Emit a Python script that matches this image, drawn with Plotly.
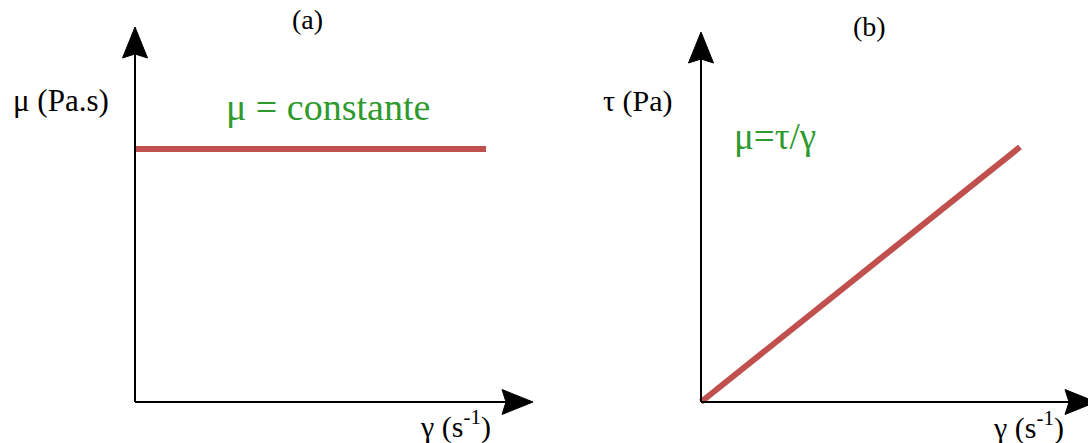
import plotly.graph_objects as go

# --- data -------------------------------------------------------------
gamma_a = [0, 10]          # shear rate, panel (a)
mu_a = [5, 5]              # viscosity: constant
gamma_b = [0, 10]          # shear rate, panel (b)
tau_b = [0, 5]             # shear stress: proportional to shear rate

panel_titles = ["(a)", "(b)"]
y_titles = ["μ (Pa.s)", "τ (Pa)"]
x_title = "γ (s<sup>-1</sup>)"
notes = ["μ = constante", "μ=τ/γ"]

# --- page geometry (pixels) ------------------------------------------
W, H = 1088, 443
RED = "#C0504D"
GREEN = "#2E9A2E"
SERIF = "Liberation Serif, Times New Roman, serif"

# per panel: pixel of the origin and pixel of the (10, 5) point
panels = [
    dict(dom=(0.0, 0.5), ox=135, oy=402, px10=486, py5=149,
         x_tip=533, y_tip=27),
    dict(dom=(0.5, 1.0), ox=701, oy=402, px10=1020, py5=147,
         x_tip=1096, y_tip=32),
]

fig = go.Figure()


def make_converters(p):
    sx = (p["px10"] - p["ox"]) / 10.0     # px per unit of gamma
    sy = (p["oy"] - p["py5"]) / 5.0       # px per unit of y
    x0 = p["dom"][0] * W
    x1 = p["dom"][1] * W
    xr = [(x0 - p["ox"]) / sx, (x1 - p["ox"]) / sx]
    yr = [(p["oy"] - H) / sy, p["oy"] / sy]
    to_x = lambda px: (px - p["ox"]) / sx
    to_y = lambda py: (p["oy"] - py) / sy
    return xr, yr, to_x, to_y


def arrow_path(points, to_x, to_y):
    s = "M " + " L ".join(f"{to_x(a):.4f},{to_y(b):.4f}" for a, b in points)
    return s + " Z"


series = [(gamma_a, mu_a), (gamma_b, tau_b)]
L, HW, NOTCH = 31, 12.5, 4   # arrowhead length, half width, notch depth

for i, p in enumerate(panels):
    n = "" if i == 0 else str(i + 1)
    xr, yr, to_x, to_y = make_converters(p)
    fig.update_layout(**{
        f"xaxis{n}": dict(domain=list(p["dom"]), range=xr, visible=False,
                          fixedrange=True),
        f"yaxis{n}": dict(domain=[0, 1], range=yr, visible=False,
                          fixedrange=True, anchor=f"x{n}"),
    })
    xs, ys = series[i]
    fig.add_trace(go.Scatter(x=xs, y=ys, mode="lines",
                             line=dict(color=RED, width=6),
                             xaxis=f"x{n}", yaxis=f"y{n}",
                             showlegend=False, hoverinfo="skip"))

    ox, oy = p["ox"], p["oy"]
    # vertical axis with arrowhead
    yt = p["y_tip"]
    fig.add_shape(type="line", xref=f"x{n}", yref=f"y{n}",
                  x0=0, y0=0, x1=0, y1=to_y(yt + L - NOTCH),
                  line=dict(color="black", width=2), layer="above")
    fig.add_shape(type="path", xref=f"x{n}", yref=f"y{n}",
                  path=arrow_path([(ox, yt), (ox + HW, yt + L),
                                   (ox, yt + L - NOTCH), (ox - HW, yt + L)],
                                  to_x, to_y),
                  fillcolor="black", line=dict(color="black", width=1),
                  layer="above")
    # horizontal axis with arrowhead
    xt = p["x_tip"]
    fig.add_shape(type="line", xref=f"x{n}", yref=f"y{n}",
                  x0=0, y0=0, x1=to_x(xt - L + NOTCH), y1=0,
                  line=dict(color="black", width=2), layer="above")
    fig.add_shape(type="path", xref=f"x{n}", yref=f"y{n}",
                  path=arrow_path([(xt, oy), (xt - L, oy - HW),
                                   (xt - L + NOTCH, oy), (xt - L, oy + HW)],
                                  to_x, to_y),
                  fillcolor="black", line=dict(color="black", width=1),
                  layer="above")


def label(text, px, py, size, color="black"):
    fig.add_annotation(text=text, x=px / W, y=1 - py / H,
                       xref="paper", yref="paper",
                       xanchor="center", yanchor="middle", showarrow=False,
                       font=dict(family=SERIF, size=size, color=color))


label(panel_titles[0], 307, 20, 28)
label(panel_titles[1], 869, 27, 28)
label(y_titles[0], 61, 101, 31)
label(y_titles[1], 638, 101, 30)
label(notes[0], 328, 107, 38, GREEN)
label(notes[1], 775, 136, 37, GREEN)
label(x_title, 455, 424, 30)
label(x_title, 1028, 425, 30)

fig.update_layout(width=W, height=H, margin=dict(l=0, r=0, t=0, b=0),
                  paper_bgcolor="white", plot_bgcolor="white")

fig.write_html("out.html")
